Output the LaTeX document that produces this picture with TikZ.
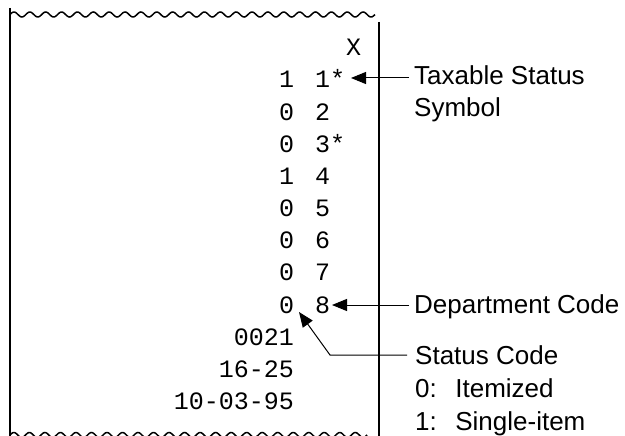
\documentclass[tikz,border=0pt]{standalone}
\usepackage{fontspec}
\setmainfont{Liberation Sans}
\newfontfamily\receiptfont{Liberation Mono}
\usetikzlibrary{arrows.meta}
\begin{document}
\begin{tikzpicture}[x=1pt,y=-1pt,
  mono/.style={font=\receiptfont\fontsize{25}{30}\selectfont, inner sep=0pt, anchor=base west},
  monor/.style={font=\receiptfont\fontsize{25}{30}\selectfont, inner sep=0pt, anchor=base east},
  lbl/.style={font=\fontsize{26}{31}\selectfont, inner sep=0pt, anchor=base west},
  edgeline/.style={line width=2pt},
  wave/.style={line width=1.5pt},
  arr/.style={line width=1pt, -{Triangle[length=15pt,width=12pt]}}]
\useasboundingbox (0,0) rectangle (625,436);
\begin{scope}
\clip (0,0) rectangle (625,436);
\draw[edgeline] (10,8) -- (10,440);
\draw[edgeline] (378.5,22) -- (378.5,440);
\draw[wave] plot[domain=10:375,samples=400] (\x,{14.5-2.5*sin(22.684*(\x-10))});
\draw[wave] plot[domain=10:367,samples=400] (\x,{435-2.5*sin(23.196*(\x-10))});
\end{scope}
% receipt text
\node[mono] (x0) at (346,56) {X};
\node[mono] (s1) at (279,88) {1};    \node[mono] (d1) at (315,88) {1*};
\node[mono] (s2) at (279,120.1) {0}; \node[mono] (d2) at (315,120.1) {2};
\node[mono] (s3) at (279,152.3) {0}; \node[mono] (d3) at (315,152.3) {3*};
\node[mono] (s4) at (279,184.4) {1}; \node[mono] (d4) at (315,184.4) {4};
\node[mono] (s5) at (279,216.6) {0}; \node[mono] (d5) at (315,216.6) {5};
\node[mono] (s6) at (279,248.7) {0}; \node[mono] (d6) at (315,248.7) {6};
\node[mono] (s7) at (279,280.8) {0}; \node[mono] (d7) at (315,280.8) {7};
\node[mono] (s8) at (279,313) {0};   \node[mono] (d8) at (315,313) {8};
\node[monor] (cnt) at (294,345) {0021};
\node[monor] (tm) at (294,377) {16-25};
\node[monor] (dt) at (294,409) {10-03-95};
% labels
\node[lbl] (tax1) at (414,85) {Taxable Status};
\node[lbl] (tax2) at (414,117) {Symbol};
\node[lbl] (dep) at (414,313) {Department Code};
\node[lbl] (st1) at (415,364) {Status Code};
\node[lbl] (st2) at (415,397) {0:\hspace{18.5pt}Itemized};
\node[lbl] (st3) at (415,430) {1:\hspace{18.5pt}Single-item};
% connectors
\coordinate (t0) at (409,78);  \coordinate (t1) at (351,78);
\coordinate (p0) at (409,305); \coordinate (p1) at (332,305);
\coordinate (c0) at (407,355); \coordinate (c1) at (330,355); \coordinate (c2) at (299,312);
\draw[arr] (t0) -- (t1);
\draw[arr] (p0) -- (p1);
\draw[arr] (c0) -- (c1) -- (c2);
\end{tikzpicture}
\end{document}
